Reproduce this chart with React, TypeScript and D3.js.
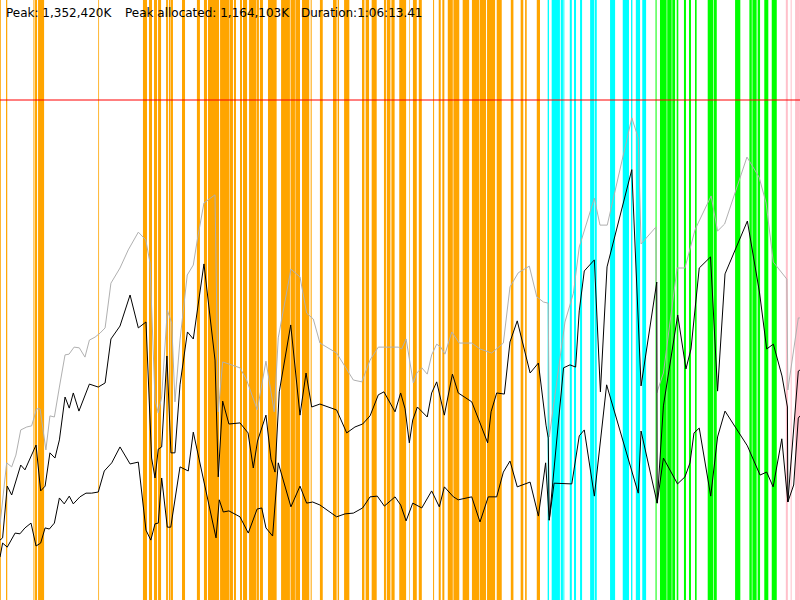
import * as d3 from "d3";
import { useEffect, useRef } from "react";

const peakK = 1352420;
const peakAllocatedK = 1164103;
const durationSec = 3973.41;

// [seconds, MB]
const committed: [number, number][] = [
  [0, 203], [33, 371], [58, 360], [79, 392], [103, 460], [133, 468], [157, 471], [182, 517], [199, 517], [228, 406],
  [248, 498], [270, 495], [295, 576], [323, 663], [343, 665], [368, 684], [394, 682], [422, 657], [444, 703], [472, 711],
  [497, 722], [522, 736], [551, 857], [596, 898], [637, 947], [687, 995], [724, 974], [745, 912], [770, 541], [786, 506],
  [803, 549], [831, 784], [853, 749], [869, 536], [894, 703], [930, 879], [960, 906], [980, 974], [1013, 1074], [1068, 1096],
  [1084, 509], [1106, 644], [1192, 628], [1225, 595], [1278, 514], [1321, 646], [1362, 509], [1382, 709], [1445, 895], [1490, 874],
  [1523, 776], [1556, 760], [1589, 695], [1672, 668], [1755, 595], [1797, 590], [1838, 649], [1879, 684], [1978, 684], [1995, 679],
  [2017, 706], [2053, 587], [2070, 614], [2095, 628], [2122, 611], [2144, 663], [2169, 692], [2189, 684], [2210, 665], [2244, 725],
  [2281, 695], [2343, 695], [2384, 679], [2442, 668], [2500, 695], [2533, 847], [2574, 885], [2629, 903], [2666, 820], [2699, 806],
  [2723, 803], [2728, 441], [2806, 752], [2848, 830], [2877, 955], [2952, 1087], [2980, 1014], [3016, 1014], [3138, 1304], [3170, 1250],
  [3184, 963], [3258, 1009], [3262, 560], [3295, 614], [3363, 898], [3402, 898], [3452, 1001], [3468, 1020], [3532, 1093], [3564, 998],
  [3599, 1017], [3710, 1198], [3770, 1144], [3805, 1074], [3841, 914], [3908, 868], [3913, 568], [3965, 763], [3973, 763],
];

const allocated: [number, number][] = [
  [0, 162], [13, 168], [36, 308], [58, 284], [103, 365], [124, 352], [179, 419], [202, 295], [224, 308], [248, 398],
  [273, 384], [295, 433], [323, 549], [344, 519], [364, 560], [392, 511], [444, 584], [488, 576], [522, 587], [551, 706],
  [596, 741], [646, 825], [687, 736], [725, 752], [753, 384], [770, 330], [786, 408], [803, 414], [829, 660], [849, 398],
  [869, 398], [894, 582], [931, 725], [960, 706], [1013, 909], [1068, 649], [1084, 333], [1106, 538], [1137, 476], [1192, 479],
  [1232, 452], [1258, 357], [1279, 430], [1321, 500], [1346, 381], [1366, 346], [1387, 563], [1444, 744], [1490, 500], [1520, 614],
  [1548, 522], [1589, 530], [1672, 514], [1722, 452], [1763, 468], [1801, 476], [1838, 498], [1879, 555], [1907, 563], [1962, 509],
  [1990, 560], [2012, 517], [2033, 425], [2050, 487], [2073, 522], [2122, 495], [2144, 560], [2169, 590], [2207, 500], [2247, 611],
  [2276, 560], [2343, 536], [2384, 479], [2422, 425], [2439, 509], [2467, 560], [2505, 557], [2533, 698], [2569, 755], [2633, 614],
  [2674, 641], [2712, 473], [2723, 438], [2728, 216], [2799, 628], [2831, 636], [2859, 630], [2877, 782], [2902, 890], [2952, 920],
  [2982, 563], [3015, 901], [3138, 1164], [3184, 579], [3262, 860], [3264, 262], [3295, 525], [3366, 771], [3407, 625], [3432, 679],
  [3473, 898], [3529, 928], [3564, 565], [3601, 882], [3712, 1025], [3772, 833], [3808, 679], [3841, 692], [3884, 606], [3911, 522],
  [3913, 265], [3965, 619], [3973, 622],
];

const retained: [number, number][] = [
  [0, 116], [13, 154], [36, 143], [75, 181], [99, 179], [124, 195], [154, 208], [179, 146], [202, 154], [224, 195],
  [245, 192], [270, 208], [295, 276], [319, 260], [344, 281], [364, 260], [397, 279], [427, 289], [455, 289], [488, 292],
  [518, 349], [555, 371], [596, 414], [646, 368], [687, 373], [725, 189], [749, 162], [770, 206], [786, 208], [803, 330],
  [831, 197], [848, 197], [894, 360], [935, 349], [960, 454], [1073, 168], [1089, 271], [1109, 238], [1137, 241], [1192, 225],
  [1233, 181], [1277, 246], [1300, 249], [1321, 195], [1354, 173], [1382, 371], [1445, 252], [1490, 308], [1523, 262], [1553, 265],
  [1589, 257], [1672, 225], [1714, 233], [1755, 235], [1801, 249], [1838, 279], [1874, 281], [1909, 254], [1962, 279], [1990, 257],
  [2017, 214], [2050, 262], [2095, 249], [2144, 295], [2182, 252], [2207, 306], [2252, 279], [2276, 271], [2343, 279], [2384, 211],
  [2425, 279], [2467, 279], [2500, 346], [2533, 376], [2569, 306], [2633, 319], [2674, 227], [2710, 371], [2728, 216], [2752, 316],
  [2840, 314], [2877, 444], [2902, 460], [2952, 281], [3013, 582], [3170, 289], [3184, 457], [3264, 262], [3295, 384], [3365, 314],
  [3402, 333], [3427, 371], [3447, 452], [3473, 465], [3530, 281], [3564, 441], [3601, 511], [3712, 417], [3775, 338], [3808, 346],
  [3840, 306], [3883, 436], [3913, 265], [3942, 311], [3965, 492], [3973, 498],
];

// activity spans, [start s, end s]
const buildSpans: [number, number][] = [
  [0, 4], [30, 36], [166, 171], [174, 184], [189, 219], [488, 492], [710, 730], [740, 755], [765, 780], [785, 800],
  [825, 834], [839, 847], [849, 859], [904, 919], [978, 993], [1013, 1028], [1033, 1088], [1093, 1140], [1142, 1157], [1162, 1172],
  [1192, 1202], [1207, 1227], [1237, 1272], [1274, 1286], [1291, 1306], [1331, 1374], [1396, 1440], [1443, 1465], [1467, 1490], [1500, 1536],
  [1543, 1548], [1589, 1603], [1654, 1672], [1677, 1684], [1709, 1735], [1798, 1810], [1816, 1833], [1846, 1871], [1907, 1917], [1921, 1939],
  [1944, 1960], [1983, 2017], [2033, 2036], [2051, 2070], [2080, 2095], [2151, 2156], [2179, 2189], [2197, 2207], [2224, 2249], [2252, 2281],
  [2298, 2330], [2344, 2381], [2384, 2414], [2419, 2459], [2467, 2492], [2537, 2550], [2586, 2599], [2608, 2616], [2666, 2682],
];
const indexSpans: [number, number][] = [
  [2720, 2727], [2740, 2781], [2785, 2796], [2798, 2803], [2830, 2840], [2851, 2861], [2881, 2891], [2931, 2952], [2955, 2964], [3030, 3055],
  [3093, 3124], [3134, 3141], [3158, 3179], [3190, 3209],
];
const testSpans: [number, number][] = [
  [3256, 3261], [3278, 3311], [3314, 3336], [3339, 3353], [3361, 3369], [3397, 3407], [3422, 3432], [3452, 3460], [3515, 3543], [3546, 3560],
  [3651, 3677], [3722, 3734], [3737, 3758], [3763, 3775], [3796, 3816], [3833, 3858],
];
const cleanupSpans: [number, number][] = [[3903, 3913], [3927, 3932], [3949, 3973]];

const phaseSpans = [buildSpans, indexSpans, testSpans, cleanupSpans];
const phaseColors = ["#ffa500", "#00ffff", "#00ff00", "#ffc0cb"];

const fmtDuration = (s: number) => {
  const h = Math.floor(s / 3600);
  const m = Math.floor((s - h * 3600) / 60);
  const sec = s - h * 3600 - m * 60;
  return `${h}:${String(m).padStart(2, "0")}:${sec.toFixed(2).padStart(5, "0")}`;
};

const MemoryChart = ({ width = 800, height = 600 }) => {
  const svgRef = useRef<SVGSVGElement | null>(null);

  useEffect(() => {
    if (!svgRef.current) return;
    const svg = d3.select(svgRef.current);
    svg.selectAll("*").remove();
    svg.attr("width", width).attr("height", height);

    const x = d3.scaleLinear().domain([0, durationSec]).range([0, width]);
    // red line marks the peak, 100px below the top
    const y = d3.scaleLinear().domain([0, peakK / 1000]).range([height, 100]);

    svg.append("rect").attr("width", width).attr("height", height).attr("fill", "#fff");

    // activity spans
    phaseSpans.forEach((spans, i) => {
      svg
        .append("g")
        .selectAll("rect")
        .data(spans)
        .join("rect")
        .attr("x", (d) => x(d[0]))
        .attr("width", (d) => x(d[1]) - x(d[0]))
        .attr("y", 0)
        .attr("height", height)
        .attr("fill", phaseColors[i]);
    });

    const line = d3
      .line<[number, number]>()
      .x((d) => x(d[0]))
      .y((d) => y(d[1]));

    svg.append("path").datum(committed).attr("fill", "none").attr("stroke", "#b0b0b0").attr("stroke-width", 1).attr("d", line);
    svg.append("path").datum(allocated).attr("fill", "none").attr("stroke", "#000").attr("stroke-width", 1).attr("d", line);
    svg.append("path").datum(retained).attr("fill", "none").attr("stroke", "#000").attr("stroke-width", 1).attr("d", line);

    // peak line
    svg
      .append("line")
      .attr("x1", 0)
      .attr("x2", width)
      .attr("y1", y(peakK / 1000))
      .attr("y2", y(peakK / 1000))
      .attr("stroke", "#ff0000")
      .attr("stroke-width", 1);

    const fmt = d3.format(",");
    const labels = [
      { x: 6, text: `Peak: ${fmt(peakK)}K` },
      { x: 125, text: `Peak allocated: ${fmt(peakAllocatedK)}K` },
      { x: 301, text: `Duration:${fmtDuration(durationSec)}` },
    ];
    svg
      .append("g")
      .selectAll("text")
      .data(labels)
      .join("text")
      .attr("x", (d) => d.x)
      .attr("y", 17)
      .attr("font-family", "DejaVu Sans, sans-serif")
      .attr("font-size", 12)
      .attr("fill", "#000")
      .text((d) => d.text);
  }, [width, height]);

  return <svg ref={svgRef} style={{ position: "absolute", left: 0, top: 0, display: "block" }}></svg>;
};

export default function App() {
  useEffect(() => {
    document.body.style.margin = "0";
    document.body.style.overflow = "hidden";
  }, []);
  return <MemoryChart />;
}
